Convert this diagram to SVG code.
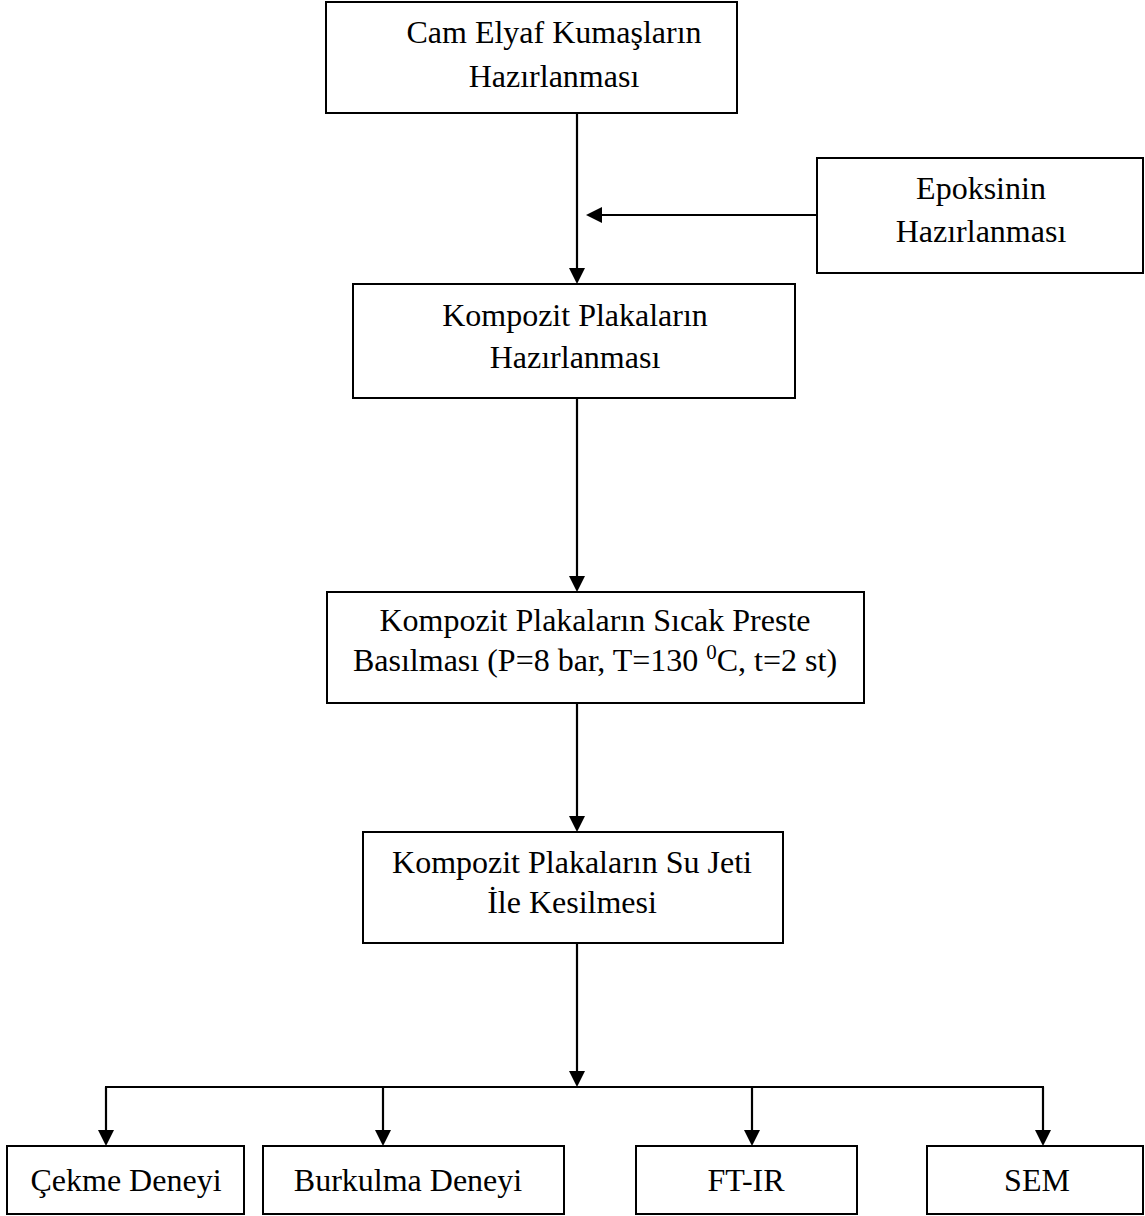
<svg xmlns="http://www.w3.org/2000/svg" width="1145" height="1216" viewBox="0 0 1145 1216">
<defs>
<style>
rect.box{fill:#fff;stroke:#000;stroke-width:2}
text{font-family:"Liberation Serif","Times New Roman",serif;font-size:32px;fill:#000;text-anchor:middle}
.conn line{stroke:#000;stroke-width:2.2}
.arr{marker-end:url(#ah)}
</style>
<marker id="ah" markerUnits="userSpaceOnUse" viewBox="0 0 16 16" refX="8" refY="8" markerWidth="16" markerHeight="16" orient="auto">
<path d="M0,0 L16,8 L0,16 z" fill="#000"/>
</marker>
</defs>
<rect width="1145" height="1216" fill="#fff"/>
<g id="n1"><rect class="box" x="326" y="2" width="411" height="111"/><text x="554" y="43">Cam Elyaf Kumaşların</text><text x="554" y="87">Hazırlanması</text></g>
<g id="n2"><rect class="box" x="817" y="158" width="326" height="115"/><text x="981" y="199">Epoksinin</text><text x="981" y="242">Hazırlanması</text></g>
<g id="n3"><rect class="box" x="353" y="284" width="442" height="114"/><text x="575" y="326">Kompozit Plakaların</text><text x="575" y="368">Hazırlanması</text></g>
<g id="n4"><rect class="box" x="327" y="592" width="537" height="111"/><text x="595" y="631">Kompozit Plakaların Sıcak Preste</text><text x="595" y="671">Basılması (P=8 bar, T=130 <tspan font-size="21" dy="-12">0</tspan><tspan dy="12">C, t=2 st)</tspan></text></g>
<g id="n5"><rect class="box" x="363" y="832" width="420" height="111"/><text x="572" y="873">Kompozit Plakaların Su Jeti</text><text x="572" y="913">İle Kesilmesi</text></g>
<g id="n6"><rect class="box" x="7" y="1146" width="237" height="68"/><text x="126" y="1191">Çekme Deneyi</text></g>
<g id="n7"><rect class="box" x="263" y="1146" width="301" height="68"/><text x="408" y="1191">Burkulma Deneyi</text></g>
<g id="n8"><rect class="box" x="636" y="1146" width="221" height="68"/><text x="746" y="1191">FT-IR</text></g>
<g id="n9"><rect class="box" x="927" y="1146" width="216" height="68"/><text x="1037" y="1191">SEM</text></g>
<g id="connectors" class="conn">
<line class="arr" x1="577" y1="113" x2="577" y2="276"/>
<line class="arr" x1="817" y1="215" x2="594" y2="215"/>
<line class="arr" x1="577" y1="398" x2="577" y2="584"/>
<line class="arr" x1="577" y1="703" x2="577" y2="824"/>
<line class="arr" x1="577" y1="943" x2="577" y2="1079"/>
<line x1="105" y1="1087" x2="1044" y2="1087"/>
<line class="arr" x1="106" y1="1087" x2="106" y2="1138"/>
<line class="arr" x1="383" y1="1087" x2="383" y2="1138"/>
<line class="arr" x1="752" y1="1087" x2="752" y2="1138"/>
<line class="arr" x1="1043" y1="1087" x2="1043" y2="1138"/>
</g>
</svg>
